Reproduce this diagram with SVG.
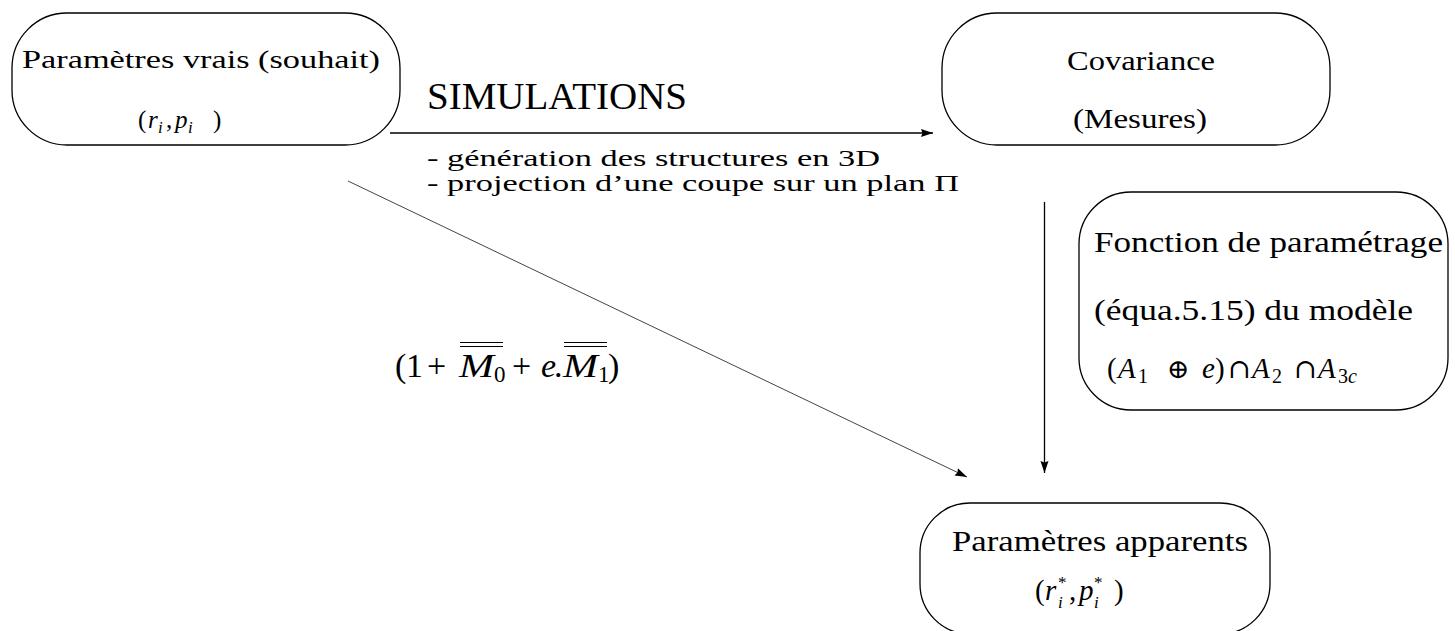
<svg xmlns="http://www.w3.org/2000/svg" width="1455" height="631" viewBox="0 0 1455 631" font-family="Liberation Serif">
<style>
.box{fill:none;stroke:#000;stroke-width:1.3}
.con{fill:none;stroke:#000;stroke-width:1.3}
.thin{fill:none;stroke:#444;stroke-width:1}
.ov{stroke:#000;stroke-width:1.2}
</style>
<defs>
<marker id="ah" markerUnits="userSpaceOnUse" markerWidth="14" markerHeight="10" refX="12" refY="4" orient="auto">
<path d="M0,0 L12,4 L0,8 L1.5,4 Z" fill="#000"/>
</marker>
</defs>
<rect width="1455" height="631" fill="#fff"/>

<g id="connectors">
<line class="con" x1="390" y1="133" x2="933" y2="133" marker-end="url(#ah)"/>
<line class="con" x1="1044.5" y1="202" x2="1044.5" y2="473" marker-end="url(#ah)"/>
<line class="thin" x1="348" y1="181" x2="967" y2="477" marker-end="url(#ah)"/>
</g>

<g id="labels">
<text style="font-family:'Liberation Serif',serif" font-family="Liberation Serif" x="427" y="109" font-size="37" textLength="260" lengthAdjust="spacingAndGlyphs">SIMULATIONS</text>
<text style="font-family:'Liberation Serif',serif" font-family="Liberation Serif" x="427" y="166" font-size="24" textLength="453" lengthAdjust="spacingAndGlyphs">- génération des structures en 3D</text>
<text style="font-family:'Liberation Serif',serif" font-family="Liberation Serif" x="427" y="191" font-size="24" textLength="532" lengthAdjust="spacingAndGlyphs">- projection d’une coupe sur un plan Π</text>
<g id="formula" font-size="34">
<text style="font-family:'Liberation Serif',serif" x="395" y="377">(</text>
<text style="font-family:'Liberation Serif',serif" x="406" y="377">1</text>
<text style="font-family:'Liberation Serif',serif" x="427" y="377">+</text>
<text style="font-family:'Liberation Serif',serif;font-style:italic" x="459" y="377" textLength="35" lengthAdjust="spacingAndGlyphs">M</text>
<text style="font-family:'Liberation Serif',serif" x="494" y="382" font-size="23">0</text>
<text style="font-family:'Liberation Serif',serif" x="512" y="377">+</text>
<text style="font-family:'Liberation Serif',serif;font-style:italic" x="541" y="377">e</text>
<text style="font-family:'Liberation Serif',serif" x="554" y="377">.</text>
<text style="font-family:'Liberation Serif',serif;font-style:italic" x="563" y="377" textLength="35" lengthAdjust="spacingAndGlyphs">M</text>
<text style="font-family:'Liberation Serif',serif" x="598" y="382" font-size="23">1</text>
<text style="font-family:'Liberation Serif',serif" x="608" y="377">)</text>
<line class="ov" x1="460" y1="342.5" x2="503" y2="342.5"/>
<line class="ov" x1="460" y1="346.5" x2="503" y2="346.5"/>
<line class="ov" x1="564" y1="342.5" x2="607" y2="342.5"/>
<line class="ov" x1="564" y1="346.5" x2="607" y2="346.5"/>
</g>
</g>

<g id="node-vrais">
<rect class="box" x="12" y="13" width="388" height="132" rx="55" ry="55"/>
<text style="font-family:'Liberation Serif',serif" x="22" y="68" font-size="26" textLength="358" lengthAdjust="spacingAndGlyphs">Paramètres vrais (souhait)</text>
<g font-size="25">
<text style="font-family:'Liberation Serif',serif" x="138" y="128">(</text>
<text style="font-family:'Liberation Serif',serif;font-style:italic" x="148" y="128">r</text>
<text style="font-family:'Liberation Serif',serif;font-style:italic" x="158" y="133" font-size="17">i</text>
<text style="font-family:'Liberation Serif',serif" x="166" y="128">,</text>
<text style="font-family:'Liberation Serif',serif;font-style:italic" x="175" y="128">p</text>
<text style="font-family:'Liberation Serif',serif;font-style:italic" x="188" y="133" font-size="17">i</text>
<text style="font-family:'Liberation Serif',serif" x="213" y="128">)</text>
</g>
</g>

<g id="node-covariance">
<rect class="box" x="942" y="13" width="388" height="132" rx="55" ry="55"/>
<text style="font-family:'Liberation Serif',serif" x="1067" y="70" font-size="28" textLength="148" lengthAdjust="spacingAndGlyphs">Covariance</text>
<text style="font-family:'Liberation Serif',serif" x="1073" y="128" font-size="28" textLength="134" lengthAdjust="spacingAndGlyphs">(Mesures)</text>
</g>

<g id="node-fonction">
<rect class="box" x="1079" y="192" width="369" height="218" rx="52" ry="52"/>
<text style="font-family:'Liberation Serif',serif" x="1094" y="252" font-size="29" textLength="349" lengthAdjust="spacingAndGlyphs">Fonction de paramétrage</text>
<text style="font-family:'Liberation Serif',serif" x="1094" y="320" font-size="29" textLength="319" lengthAdjust="spacingAndGlyphs">(équa.5.15) du modèle</text>
<g font-size="29">
<text style="font-family:'Liberation Serif',serif" x="1107" y="378">(</text>
<text style="font-family:'Liberation Serif',serif;font-style:italic" x="1118" y="378">A</text>
<text style="font-family:'Liberation Serif',serif" x="1138" y="383" font-size="20">1</text>
<text style="font-family:'DejaVu Serif',serif" x="1167" y="378" font-size="27">⊕</text>
<text style="font-family:'Liberation Serif',serif;font-style:italic" x="1202" y="378">e</text>
<text style="font-family:'Liberation Serif',serif" x="1215" y="378">)</text>
<text style="font-family:'DejaVu Serif',serif" x="1228" y="378" font-size="27">∩</text>
<text style="font-family:'Liberation Serif',serif;font-style:italic" x="1252" y="378">A</text>
<text style="font-family:'Liberation Serif',serif" x="1272" y="383" font-size="20">2</text>
<text style="font-family:'DejaVu Serif',serif" x="1294" y="378" font-size="27">∩</text>
<text style="font-family:'Liberation Serif',serif;font-style:italic" x="1318" y="378">A</text>
<text style="font-family:'Liberation Serif',serif" x="1338" y="383" font-size="20">3</text>
<text style="font-family:'Liberation Serif',serif;font-style:italic" x="1348" y="383" font-size="20">c</text>
</g>
</g>

<g id="node-apparents">
<rect class="box" x="920" y="503" width="350" height="131" rx="50" ry="50"/>
<text style="font-family:'Liberation Serif',serif" x="952" y="551" font-size="30" textLength="296" lengthAdjust="spacingAndGlyphs">Paramètres apparents</text>
<g font-size="29">
<text style="font-family:'Liberation Serif',serif" x="1035" y="600">(</text>
<text style="font-family:'Liberation Serif',serif;font-style:italic" x="1045" y="600">r</text>
<text style="font-family:'Liberation Serif',serif" x="1058" y="588" font-size="17">*</text>
<text style="font-family:'Liberation Serif',serif;font-style:italic" x="1058" y="608" font-size="17">i</text>
<text style="font-family:'Liberation Serif',serif" x="1069" y="600">,</text>
<text style="font-family:'Liberation Serif',serif;font-style:italic" x="1079" y="600">p</text>
<text style="font-family:'Liberation Serif',serif" x="1094" y="588" font-size="17">*</text>
<text style="font-family:'Liberation Serif',serif;font-style:italic" x="1094" y="608" font-size="17">i</text>
<text style="font-family:'Liberation Serif',serif" x="1114" y="600">)</text>
</g>
</g>
</svg>
